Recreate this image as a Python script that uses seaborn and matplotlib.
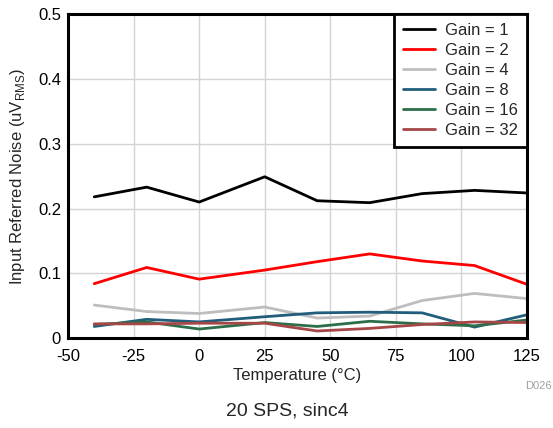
import matplotlib
matplotlib.use("Agg")
import matplotlib.pyplot as plt
import seaborn as sns
import pandas as pd

temperature = [-40, -20, 0, 25, 45, 65, 85, 105, 125]
gain_1 = [0.218, 0.233, 0.210, 0.249, 0.212, 0.209, 0.223, 0.228, 0.224]
gain_2 = [0.084, 0.109, 0.091, 0.105, 0.118, 0.130, 0.119, 0.112, 0.083]
gain_4 = [0.051, 0.041, 0.038, 0.048, 0.031, 0.034, 0.058, 0.069, 0.061]
gain_8 = [0.018, 0.029, 0.025, 0.033, 0.039, 0.040, 0.039, 0.017, 0.036]
gain_16 = [0.021, 0.025, 0.014, 0.024, 0.018, 0.026, 0.022, 0.019, 0.028]
gain_32 = [0.022, 0.022, 0.023, 0.023, 0.011, 0.015, 0.021, 0.025, 0.024]
labels = ["Gain = 1", "Gain = 2", "Gain = 4", "Gain = 8", "Gain = 16", "Gain = 32"]
colors = ["#000000", "#FF0000", "#BEBEBE", "#225E7C", "#2C6E49", "#A64646"]

series = [gain_1, gain_2, gain_4, gain_8, gain_16, gain_32]
rows = []
for lab, vals in zip(labels, series):
    for t, v in zip(temperature, vals):
        rows.append({"Temperature": t, "Noise": v, "Gain": lab})
df = pd.DataFrame(rows)

sns.set_theme(style="white")
plt.rcParams["font.family"] = ["Liberation Sans", "DejaVu Sans"]
plt.rcParams["mathtext.fontset"] = "custom"
plt.rcParams["mathtext.rm"] = "Liberation Sans"

fig = plt.figure(figsize=(5.53, 4.28), dpi=100)
ax = fig.add_axes([0.123, 0.210, 0.830, 0.757])

sns.lineplot(data=df, x="Temperature", y="Noise", hue="Gain", hue_order=labels,
             palette=colors, linewidth=2, ax=ax, estimator=None, sort=False)

ax.set_xlim(-50, 125)
ax.set_ylim(0, 0.5)
ax.set_xticks([-50, -25, 0, 25, 50, 75, 100, 125])
ax.set_xticklabels(["-50", "-25", "0", "25", "50", "75", "100", "125"])
ax.set_yticks([0, 0.1, 0.2, 0.3, 0.4, 0.5])
ax.set_yticklabels(["0", "0.1", "0.2", "0.3", "0.4", "0.5"])
ax.tick_params(axis="both", length=0, labelsize=12, colors="#000000")
ax.tick_params(axis="x", pad=8)
ax.tick_params(axis="y", pad=5)
ax.grid(True, color="#D3D3D3", linewidth=1)
ax.set_axisbelow(True)
for s in ax.spines.values():
    s.set_color("black")
    s.set_linewidth(2.2)

ax.set_xlabel("Temperature (°C)", fontsize=12, labelpad=3)
ax.set_ylabel("Input Referred Noise (uV$_{\\mathrm{RMS}}$)", fontsize=12, labelpad=8)

leg = ax.legend(loc="upper right", borderaxespad=0, fontsize=12, frameon=True,
                fancybox=False, handlelength=1.9, labelspacing=0.3,
                borderpad=0.55, handletextpad=0.6)
leg.get_frame().set_edgecolor("black")
leg.get_frame().set_linewidth(2)
leg.get_frame().set_alpha(1)

fig.text(0.998, 0.098, "D026", ha="right", va="center", fontsize=8, color="#A0A0A0")
fig.text(0.52, 0.04, "20 SPS, sinc4", ha="center", va="center", fontsize=14)

fig.savefig("out.png", dpi=100)
